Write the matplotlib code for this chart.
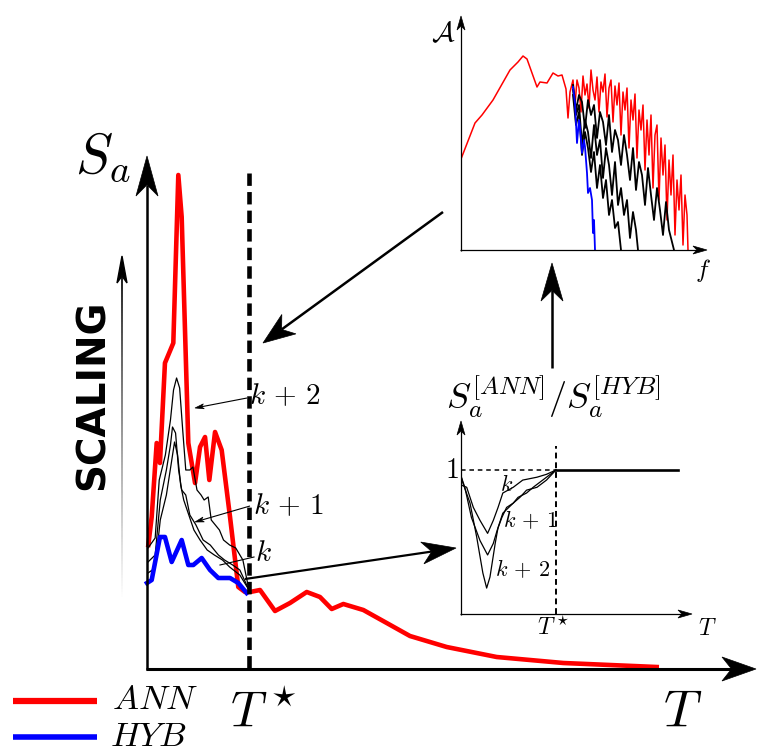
import numpy as np
import matplotlib
matplotlib.use('Agg')
import matplotlib.pyplot as plt
from matplotlib.patches import Polygon
from matplotlib.collections import LineCollection

plt.rcParams['mathtext.fontset'] = 'cm'

# ---- main spectrum S_a(T) ----
T_star = 1.0
ann_T = [0.013, 0.046, 0.095, 0.127, 0.176, 0.258, 0.307, 0.340, 0.405, 0.471, 0.520, 0.569,
         0.611, 0.667, 0.732, 0.814, 0.895, 0.961, 1.010, 1.108, 1.255, 1.402, 1.566, 1.696,
         1.811, 1.925, 2.121, 2.350, 2.578, 2.938, 3.428, 4.082, 4.997]
ann_Sa = [1.23, 1.51, 2.25, 2.05, 3.05, 3.25, 4.93, 4.51, 2.25, 1.85, 2.21, 2.31,
          1.88, 2.36, 2.18, 1.51, 0.81, 0.76, 0.76, 0.78, 0.57, 0.65, 0.76, 0.71,
          0.59, 0.64, 0.58, 0.45, 0.32, 0.21, 0.11, 0.05, 0.01]
hyb_T = [0.0, 0.046, 0.127, 0.176, 0.242, 0.340, 0.405, 0.454, 0.536, 0.618, 0.699, 0.814, 0.895, 0.977]
hyb_Sa = [0.85, 0.88, 1.31, 1.31, 1.06, 1.28, 1.03, 1.03, 1.10, 0.98, 0.90, 0.90, 0.85, 0.75]

k2_T = [0.01, 0.08, 0.12, 0.18, 0.23, 0.26, 0.29, 0.32, 0.35, 0.38, 0.42, 0.45, 0.49, 0.53,
        0.56, 0.60, 0.63, 0.67, 0.71, 0.75, 0.81, 0.87, 0.94, 1.0]
k2_Sa = [1.20, 1.30, 1.88, 2.13, 2.48, 2.78, 2.90, 2.80, 2.38, 1.98, 1.98, 2.01, 1.78, 1.73,
         1.68, 1.71, 1.48, 1.43, 1.38, 1.28, 1.23, 1.20, 1.08, 0.78]
k1_T = [0.01, 0.08, 0.13, 0.19, 0.23, 0.25, 0.28, 0.31, 0.34, 0.38, 0.42, 0.48, 0.55, 0.62,
        0.70, 0.76, 0.84, 0.91, 1.0]
k1_Sa = [1.06, 1.13, 1.68, 1.98, 2.23, 2.41, 2.35, 1.98, 1.78, 1.73, 1.53, 1.43, 1.28, 1.23,
         1.13, 1.08, 1.03, 0.98, 0.78]
k0_T = [0.01, 0.08, 0.13, 0.19, 0.24, 0.27, 0.30, 0.33, 0.36, 0.40, 0.46, 0.52, 0.59, 0.66,
        0.74, 0.81, 0.91, 1.0]
k0_Sa = [0.95, 1.00, 1.48, 1.73, 2.06, 2.26, 2.13, 1.83, 1.68, 1.56, 1.38, 1.28, 1.18, 1.13,
         1.08, 1.01, 0.93, 0.78]

# ---- Fourier amplitude inset ----
red_f_smooth = [0.0, 1.4, 2.1, 3.2, 4.9, 5.7, 6.2, 6.6, 7.6, 7.9, 8.6, 9.2, 9.7, 10.1, 10.5, 10.7, 10.9, 11.2]
red_A_smooth = [0.91, 1.27, 1.35, 1.50, 1.80, 1.88, 1.94, 1.91, 1.63, 1.68, 1.67, 1.77, 1.74, 1.75, 1.61, 1.32, 1.58, 1.70]
red_A_noisy = [1.45, 1.70, 1.62, 1.38, 1.74, 1.55, 1.66, 1.42, 1.80, 1.60,
               1.50, 1.73, 1.38, 1.68, 1.58, 1.76, 1.33, 1.62, 1.70, 1.28,
               1.64, 1.45, 1.67, 1.15, 1.58, 1.40, 1.62, 1.02, 1.50, 1.30,
               1.56, 0.92, 1.40, 1.20, 1.45, 0.80, 1.30, 0.95, 1.35, 0.62,
               1.15, 1.25, 0.50, 1.12, 0.75, 1.05, 0.30, 0.90, 0.55, 0.95,
               0.15, 0.70, 0.40, 0.75, 0.05, 0.55, 0.35, 0.0]
red_f_noisy = list(np.linspace(11.4, 22.6, 57)) + [22.7]

blk1_f = [11.2, 11.5, 11.8, 12.1, 12.4, 12.7, 13.0, 13.3, 13.6, 13.9, 14.2, 14.5, 14.8, 15.1,
          15.4, 15.7, 16.0, 16.3, 16.6, 16.9, 17.2, 17.5, 17.8, 18.1, 18.4, 18.7, 19.0, 19.3,
          19.6, 19.9, 20.2, 20.5, 20.8, 21.1, 21.3]
blk1_A = [1.65, 1.40, 1.55, 1.48, 1.22, 1.50, 1.35, 1.45, 1.12, 1.38, 1.28, 1.05, 1.35, 0.98,
          1.20, 1.10, 0.85, 1.15, 0.95, 0.70, 1.02, 0.60, 0.88, 0.75, 0.45, 0.82, 0.55, 0.30,
          0.62, 0.40, 0.15, 0.48, 0.20, 0.08, 0.0]
blk2_f = [11.2, 11.5, 11.8, 12.1, 12.4, 12.7, 13.0, 13.3, 13.6, 13.9, 14.2, 14.5, 14.8, 15.1,
          15.4, 15.7, 16.0, 16.3, 16.6, 16.9, 17.2, 17.5, 17.7]
blk2_A = [1.60, 1.35, 1.45, 1.05, 1.30, 1.18, 0.92, 1.25, 0.95, 1.10, 0.72, 1.02, 0.85, 0.55,
          0.88, 0.45, 0.62, 0.35, 0.50, 0.12, 0.38, 0.20, 0.0]
blk3_f = [11.2, 11.5, 11.8, 12.1, 12.4, 12.7, 13.0, 13.3, 13.6, 13.9, 14.2, 14.5, 14.8, 15.1,
          15.4, 15.7, 16.0]
blk3_A = [1.55, 1.25, 1.38, 0.95, 1.18, 1.02, 0.78, 0.98, 0.62, 0.85, 0.52, 0.70, 0.35, 0.50,
          0.22, 0.28, 0.0]
blue_f = [11.2, 11.4, 11.6, 11.8, 11.9, 12.1, 12.3, 12.4, 12.6, 12.7, 12.9, 13.1, 13.2, 13.3, 13.4]
blue_A = [1.63, 1.47, 1.07, 1.30, 1.23, 0.97, 1.10, 1.03, 0.77, 0.57, 0.62, 0.50, 0.17, 0.30, 0.0]

# ---- ratio inset ----
r2_T = [0.0, 0.02, 0.095, 0.165, 0.23, 0.27, 0.305, 0.36, 0.39, 0.44, 0.55, 0.60, 0.69, 0.76, 0.86, 1.0]
r2 = [0.958, 0.91, 0.77, 0.535, 0.285, 0.18, 0.257, 0.49, 0.60, 0.70, 0.77, 0.81, 0.84, 0.88, 0.93, 1.0]
r1_T = [0.0, 0.04, 0.11, 0.20, 0.28, 0.34, 0.38, 0.43, 0.48, 0.55, 0.62, 0.69, 0.80, 0.90, 1.0]
r1 = [0.958, 0.88, 0.67, 0.51, 0.41, 0.49, 0.58, 0.67, 0.74, 0.77, 0.81, 0.86, 0.88, 0.93, 1.0]
r0_T = [0.0, 0.06, 0.13, 0.20, 0.28, 0.34, 0.39, 0.44, 0.55, 0.65, 0.80, 0.90, 1.0]
r0 = [0.896, 0.88, 0.74, 0.65, 0.56, 0.65, 0.74, 0.84, 0.88, 0.93, 0.95, 0.97, 1.0]
T_end = 2.284

W, H = 757, 753
fig = plt.figure(figsize=(W / 100, H / 100), dpi=100)


def px_axes(x0, y0, x1, y1):
    a = fig.add_axes([x0 / W, 1 - y0 / H, (x1 - x0) / W, (y0 - y1) / H])
    a.axis('off')
    return a


# main axes: 102 px per second, 100 px per unit Sa
ax = px_axes(147, 668, 757, 150)
ax.set_xlim(0, 610 / 102)
ax.set_ylim(0, 518 / 100)
ax.plot(ann_T, ann_Sa, color='red', lw=3.3, solid_joinstyle='round', zorder=2, clip_on=False)
for tt, ss in [(k2_T, k2_Sa), (k1_T, k1_Sa), (k0_T, k0_Sa)]:
    ax.plot(tt, ss, color='black', lw=0.9, zorder=3, clip_on=False)
ax.plot(hyb_T, hyb_Sa, color='blue', lw=3.3, solid_joinstyle='round', zorder=4, clip_on=False)
ax.plot([T_star, T_star], [0, 4.95], color='black', lw=3.3, dashes=(2.7, 1.35), zorder=5)

# spectrum inset: 10 px per Hz, 100 px per unit A
ax2 = px_axes(461, 250, 711, 10)
ax2.set_xlim(0, 25)
ax2.set_ylim(0, 2.4)
ax2.plot(red_f_smooth + red_f_noisy, red_A_smooth + red_A_noisy, color='red', lw=1.1)
for ff, aa in [(blk1_f, blk1_A), (blk2_f, blk2_A), (blk3_f, blk3_A)]:
    ax2.plot(ff, aa, color='black', lw=1.3)
ax2.plot(blue_f, blue_A, color='blue', lw=1.3)

# ratio inset
ax3 = px_axes(461, 614, 701, 414)
ax3.set_xlim(0, 240 / 95)
ax3.set_ylim(0, 200 / 144)
for tt, rr in [(r2_T, r2), (r1_T, r1), (r0_T, r0)]:
    ax3.plot(tt, rr, color='black', lw=0.9)
ax3.plot([0, T_star], [1, 1], color='black', lw=1.1, dashes=(3, 2.5))
ax3.plot([T_star, T_end], [1, 1], color='black', lw=1.9)
ax3.plot([T_star, T_star], [0, 1.17], color='black', lw=1.4, dashes=(3, 2))

# overlay in pixel coordinates for arrows and labels
ov = fig.add_axes([0, 0, 1, 1], zorder=10)
ov.set_xlim(0, W)
ov.set_ylim(H, 0)
ov.axis('off')


def stealth(x0, y0, x1, y1, L, Wd, lw, color='black'):
    d = np.array([x1 - x0, y1 - y0], float)
    n = d / np.hypot(*d)
    p = np.array([-n[1], n[0]])
    tip = np.array([x1, y1], float)
    back = tip - n * L
    notch = tip - n * L * 0.72
    ov.plot([x0, notch[0]], [y0, notch[1]], color=color, lw=lw, solid_capstyle='butt')
    ov.add_patch(Polygon([tip, back + p * Wd / 2, notch, back - p * Wd / 2],
                         closed=True, facecolor=color, edgecolor=color, lw=0.5))


# main axes arrows
stealth(147, 670, 147, 156, 40, 22, 1.8)
stealth(146, 669, 756, 669, 34, 24, 2.2)
# inset axes
stealth(461, 251, 461, 16, 14, 8, 0.9)
stealth(460, 250, 707, 250, 14, 8, 0.9)
stealth(461, 615, 461, 421, 14, 8, 0.9)
stealth(460, 614, 692, 614, 14, 8, 0.9)
# connecting arrows
stealth(443, 212, 263, 343, 32, 24, 1.8)
stealth(245, 579, 456, 548, 34, 22, 1.6)
stealth(552, 368, 552, 263, 38, 22, 1.8)
# label pointers
stealth(247, 398, 195, 408, 9, 5, 0.8)
stealth(250, 506, 195, 522, 9, 5, 0.8)
ov.plot([254, 220], [557, 565], color='black', lw=0.8)

# gradient scaling arrow
ys = np.linspace(600, 272, 120)
segs = [[(122, ys[i]), (122, ys[i + 1])] for i in range(len(ys) - 1)]
shades = np.linspace(1.0, 0.0, len(segs)) ** 0.8
ov.add_collection(LineCollection(segs, colors=[(s, s, s) for s in shades], lw=1.3))
ov.add_patch(Polygon([(122, 256), (117, 283), (122, 276), (127, 283)], closed=True, color='black'))

ov.text(93, 395, 'SCALING', rotation=90, ha='center', va='center', fontsize=28,
        fontweight='bold', family='DejaVu Sans')

# labels
ov.text(103, 158, r'$S_a$', ha='center', va='center', fontsize=40)
ov.text(683, 712, r'$T$', ha='center', va='center', fontsize=38)
ov.text(263, 712, r'$T^\star$', ha='center', va='center', fontsize=36)
ov.text(249, 396, r'$k\,+\,2$', ha='left', va='center', fontsize=21)
ov.text(253, 506, r'$k\,+\,1$', ha='left', va='center', fontsize=21)
ov.text(255, 553, r'$k$', ha='left', va='center', fontsize=21)
ov.text(443, 33, r'$\mathcal{A}$', ha='center', va='center', fontsize=20)
ov.text(703, 270, r'$f$', ha='center', va='center', fontsize=18)
ov.text(553, 398, r'$S_a^{[ANN]}/S_a^{[HYB]}$', ha='center', va='center', fontsize=26)
ov.text(452, 470, r'$1$', ha='center', va='center', fontsize=20)
ov.text(553, 628, r'$T^\star$', ha='center', va='center', fontsize=17)
ov.text(707, 628, r'$T$', ha='center', va='center', fontsize=17)
ov.text(500, 484, r'$k$', ha='left', va='center', fontsize=16)
ov.text(503, 520, r'$k\,+\,1$', ha='left', va='center', fontsize=16)
ov.text(495, 569, r'$k\,+\,2$', ha='left', va='center', fontsize=16)

# legend
ov.plot([13, 97], [701, 701], color='red', lw=4.5, solid_capstyle='butt')
ov.plot([13, 97], [737, 737], color='blue', lw=4.0, solid_capstyle='butt')
ov.text(112, 699, r'$ANN$', ha='left', va='center', fontsize=25)
ov.text(110, 736, r'$HYB$', ha='left', va='center', fontsize=25)

fig.savefig('out.png', dpi=100)
